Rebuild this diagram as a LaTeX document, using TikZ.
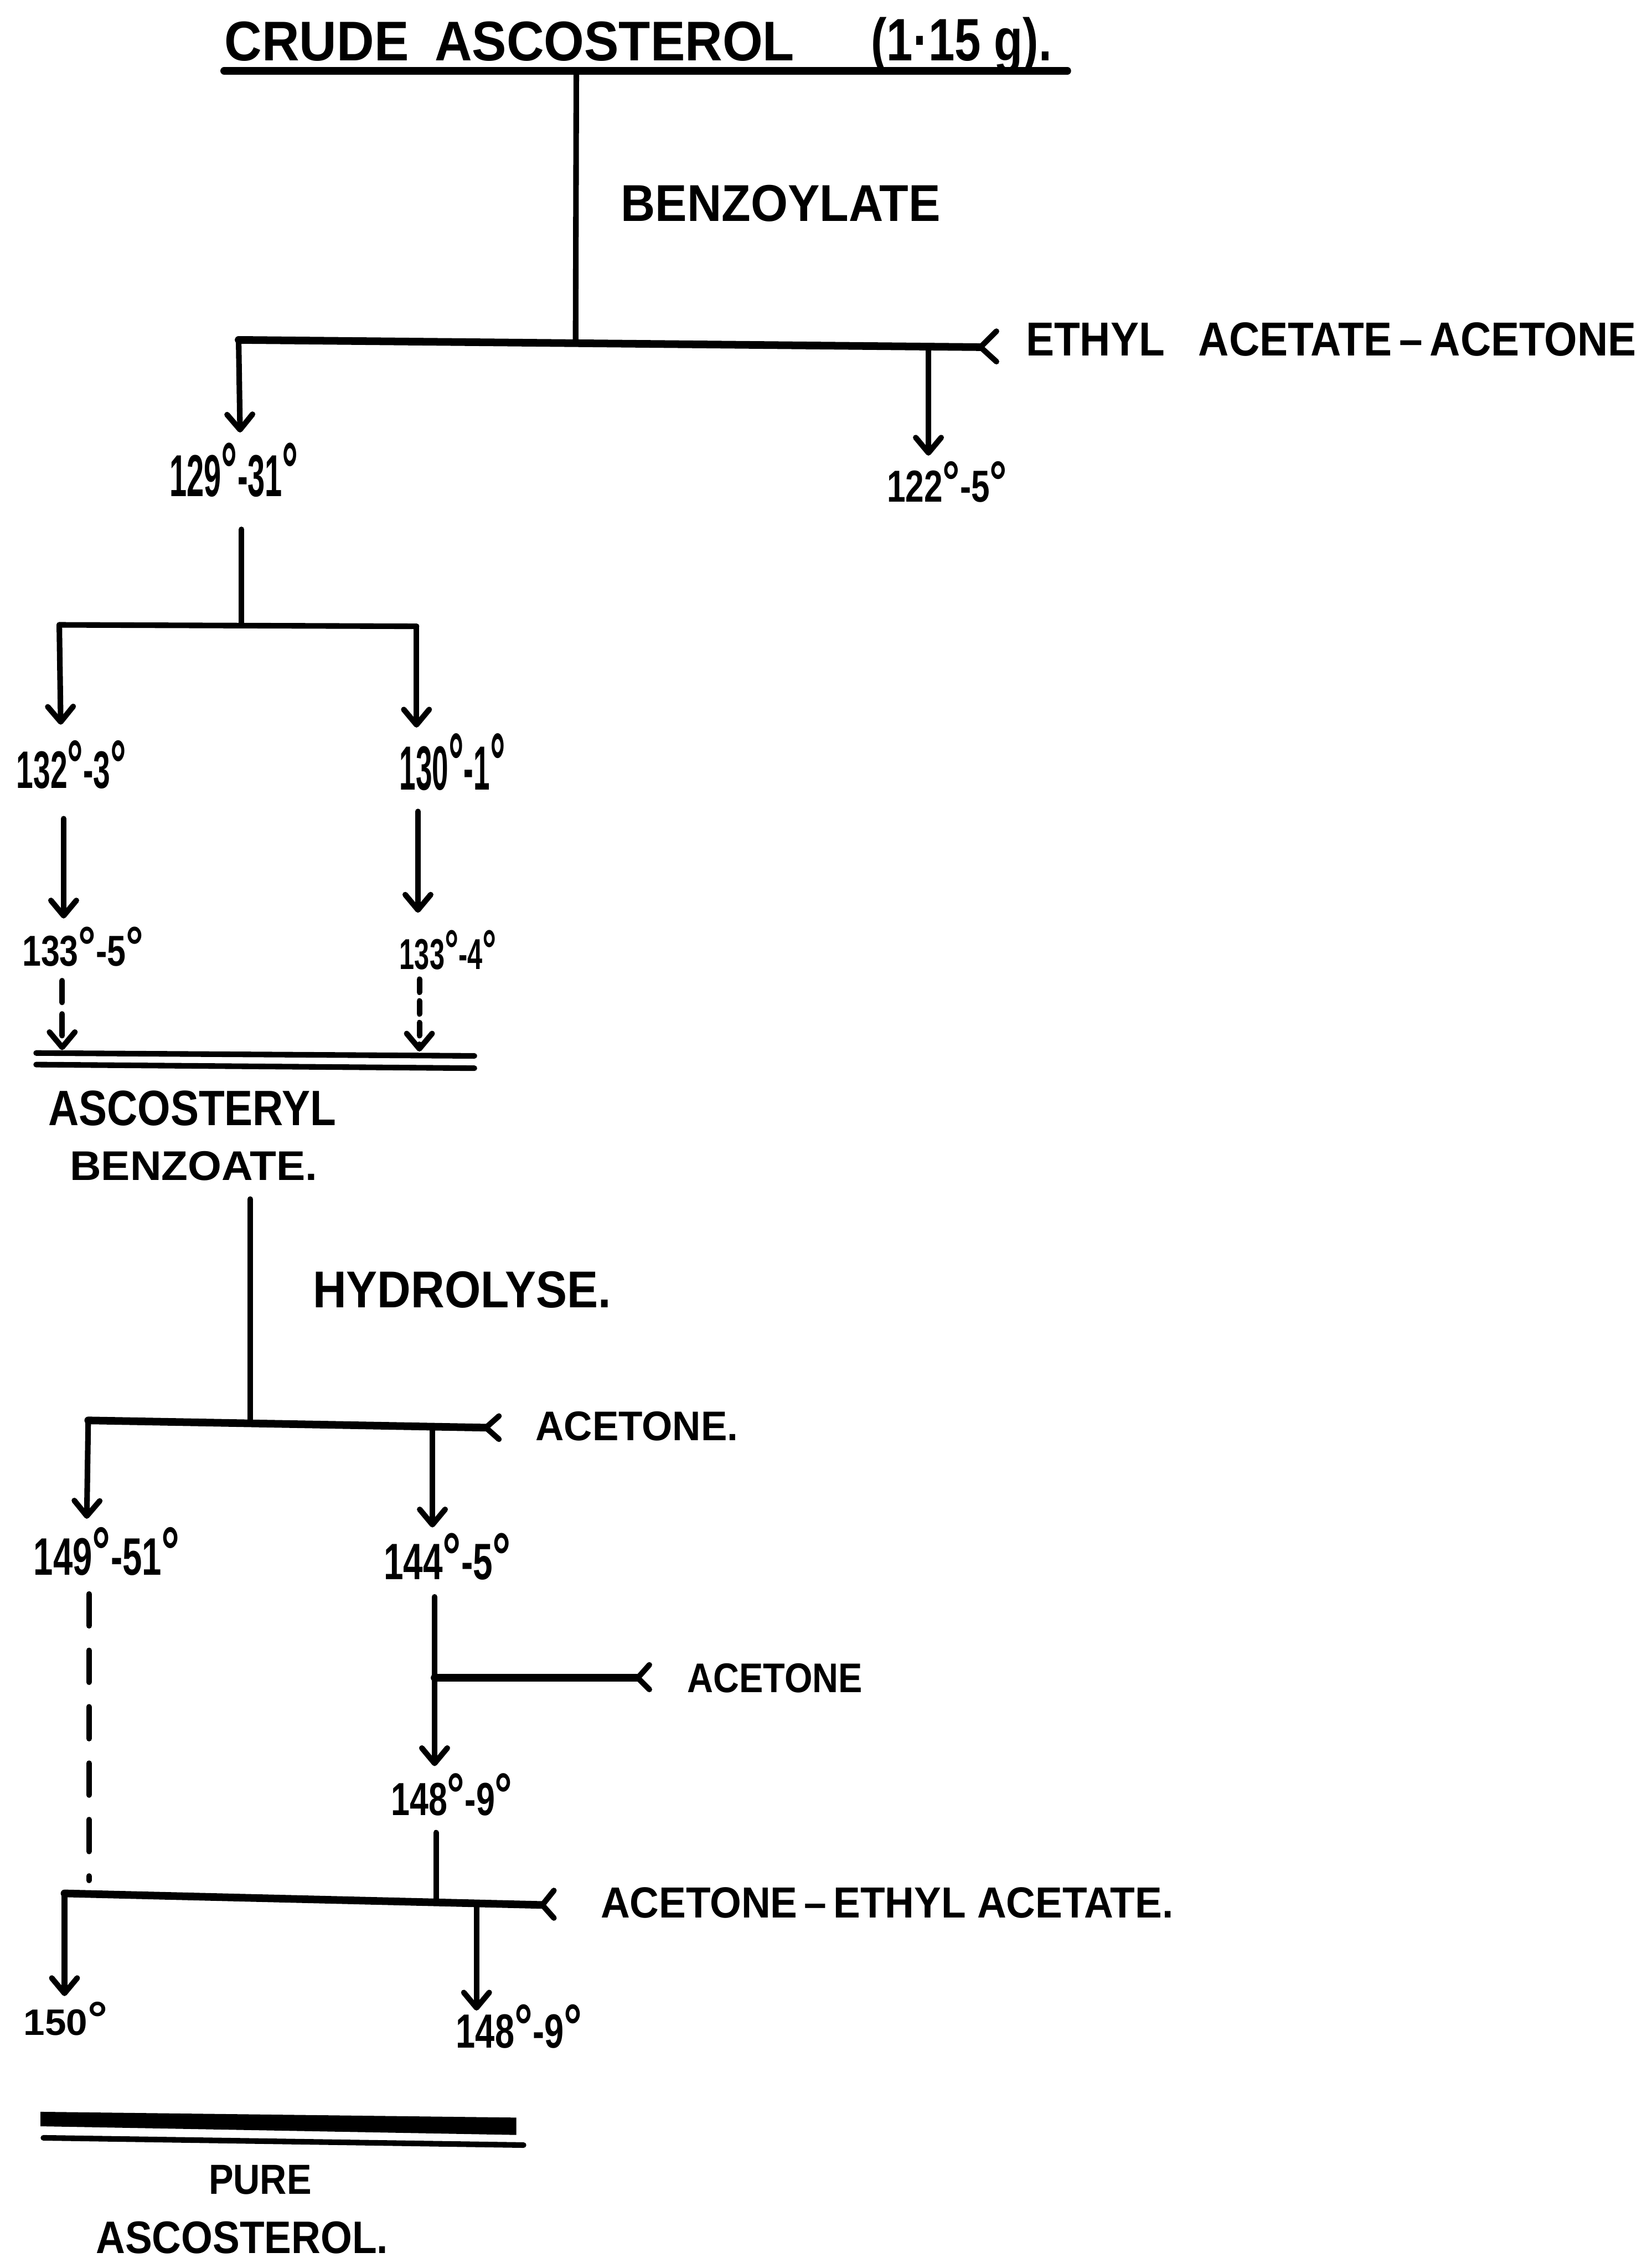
\documentclass[tikz,border=0pt]{standalone}
\usepackage{fontspec}
\setmainfont{Liberation Sans}
\usetikzlibrary{arrows.meta}
\newdimen\upx \upx=0.02cm
\newcommand\lab[3]{\resizebox{#1\upx}{#2\upx}{\bfseries #3}}
\newcommand\dg{\scalebox{1.3}{°}}
\tikzset{
  ln/.style={line width=2.2pt, line cap=round, line join=round},
  heavy/.style={ln, line width=3pt},
  arr/.style={ln, -{Straight Barb[round,length=6pt,width=10pt]}},
  txt/.style={inner sep=0pt, anchor=base west},
}
\begin{document}
\begin{tikzpicture}[x=0.02cm, y=-0.02cm]
\fill[white] (0,0) rectangle (1142,1568);
\path[use as bounding box] (0,0) rectangle (1142,1568);

% ---- title
\node[txt] (title) at (155,42) {\lab{394}{27}{CRUDE\hspace{0.5em}ASCOSTEROL}};
\node[txt] (mass) at (602,42) {\lab{125}{30}{(1·15 g).}};
\coordinate (ulL) at (155,49);
\coordinate (ulR) at (738,49);
\draw[heavy] (ulL) -- (ulR);

% ---- benzoylate
\coordinate (a0) at (398.5,50);
\coordinate (a1) at (398,237.5);
\draw[ln] (a0) -- (a1);
\node[txt] (benz) at (429,153) {\lab{221}{25}{BENZOYLATE}};

\coordinate (b1L) at (165,235);
\coordinate (b1R) at (678,240);
\coordinate (b1a) at (642,239.5);
\draw[heavy] (b1L) -- (b1R);
\draw[ln] (b1R) ++(11,-11) -- (b1R) -- ++(11,10);
\node[txt] (eaa) at (709,246) {\lab{422}{23}{ETHYL\hspace{0.8em}ACETATE\,–\,ACETONE}};

\coordinate (e129) at (166,299);
\coordinate (e122) at (642,315);
\draw[arr] (b1L) -- (e129);
\draw[arr] (b1a) -- (e122);
\node[txt] (n129) at (117,343) {\lab{89}{37}{129\dg-31\dg}};
\node[txt] (n122) at (613,347) {\lab{83}{28}{122\dg-5\dg}};

% ---- second split
\coordinate (c0) at (167,366);
\coordinate (c1) at (167,432);
\draw[ln] (c0) -- (c1);
\coordinate (b2L) at (41,432);
\coordinate (b2R) at (288,433);
\draw[ln] (b2L) -- (b2R);
\coordinate (e132) at (42,501);
\coordinate (e130) at (288,503);
\draw[arr] (b2L) -- (e132);
\draw[arr] (b2R) -- (e130);
\node[txt] (n132) at (11,545) {\lab{76}{33}{132\dg-3\dg}};
\node[txt] (n130) at (276,546) {\lab{73}{39}{130\dg-1\dg}};

\coordinate (d1s) at (44,566);
\coordinate (d1e) at (44,635);
\coordinate (d2s) at (289,561);
\coordinate (d2e) at (289,631);
\draw[arr] (d1s) -- (d1e);
\draw[arr] (d2s) -- (d2e);
\node[txt] (n1335) at (15,668) {\lab{84}{27}{133\dg-5\dg}};
\node[txt] (n1334) at (276,670) {\lab{67}{27}{133\dg-4\dg}};

\coordinate (f1s) at (43,678);
\coordinate (f1e) at (43,726);
\coordinate (f2s) at (290,677);
\coordinate (f2e) at (290,727);
\draw[arr, dash pattern=on 15\upx off 8\upx] (f1s) -- (f1e);
\draw[arr, dash pattern=on 9\upx off 6\upx] (f2s) -- (f2e);

\coordinate (g1L) at (25,728);
\coordinate (g1R) at (328,730);
\coordinate (g2L) at (25,736);
\coordinate (g2R) at (328,738.5);
\draw[ln] (g1L) -- (g1R);
\draw[ln] (g2L) -- (g2R);
\node[txt] (asb1) at (33,778) {\lab{199}{24}{ASCOSTERYL}};
\node[txt] (asb2) at (48,816) {\lab{171}{20}{BENZOATE.}};

% ---- hydrolyse
\coordinate (h0) at (173,829);
\coordinate (h1) at (173,983.5);
\draw[ln] (h0) -- (h1);
\node[txt] (hyd) at (216,904) {\lab{206}{25}{HYDROLYSE.}};
\coordinate (b3L) at (61,982);
\coordinate (b3R) at (336,987);
\coordinate (b3a) at (299,986.3);
\draw[heavy] (b3L) -- (b3R);
\draw[ln] (b3R) ++(9,-8) -- (b3R) -- ++(9,8);
\node[txt] (ac1) at (370,996) {\lab{140}{20}{ACETONE.}};
\coordinate (e149) at (60,1050);
\coordinate (e144) at (299,1056);
\draw[arr] (b3L) -- (e149);
\draw[arr] (b3a) -- (e144);
\node[txt] (n149) at (23,1089) {\lab{101}{33}{149\dg-51\dg}};
\node[txt] (n144) at (265,1092) {\lab{88}{32}{144\dg-5\dg}};

% ---- left dashed
\coordinate (k0) at (61.5,1102);
\coordinate (k1) at (61.5,1300);
\draw[ln, dash pattern=on 22\upx off 17\upx] (k0) -- (k1);

% ---- right chain
\coordinate (m0) at (300.5,1104);
\coordinate (mj) at (300.5,1160);
\coordinate (m1) at (300.5,1221);
\draw[arr] (m0) -- (m1);
\coordinate (mR) at (441,1160);
\draw[heavy] (mj) -- (mR);
\draw[ln] (mR) ++(8,-9) -- (mR) -- ++(8,8);
\node[txt] (ac2) at (475,1170) {\lab{121}{20}{ACETONE}};
\node[txt] (n148a) at (270,1255) {\lab{84}{29}{148\dg-9\dg}};

\coordinate (p0) at (301.5,1267);
\coordinate (p1) at (301.5,1314);
\draw[ln] (p0) -- (p1);
\coordinate (b4L) at (44.6,1309);
\coordinate (b4R) at (375,1317);
\coordinate (b4a) at (329.5,1316);
\draw[heavy] (b4L) -- (b4R);
\draw[ln] (b4R) ++(8,-10) -- (b4R) -- ++(8,9);
\node[txt] (ac3) at (415,1326) {\lab{396}{21}{ACETONE\,–\,ETHYL ACETATE.}};
\coordinate (e150) at (44.6,1380);
\coordinate (e148) at (329.5,1390);
\draw[arr] (b4L) -- (e150);
\draw[arr] (b4a) -- (e148);
\node[txt] (n150) at (16,1407) {\lab{58}{23}{150\dg}};
\node[txt] (n148b) at (315,1416) {\lab{87}{30}{148\dg-9\dg}};

% ---- pure
\coordinate (q1) at (28,1460);
\coordinate (q2) at (357,1464);
\coordinate (q3) at (357,1476);
\coordinate (q4) at (28,1470);
\fill[line join=round] (q1) -- (q2) -- (q3) -- (q4) -- cycle;
\coordinate (r1) at (30,1478);
\coordinate (r2) at (362,1483);
\draw[ln] (r1) -- (r2);
\node[txt] (pure1) at (144,1517) {\lab{71}{20}{PURE}};
\node[txt] (pure2) at (66,1558) {\lab{202}{22}{ASCOSTEROL.}};
\end{tikzpicture}
\end{document}
